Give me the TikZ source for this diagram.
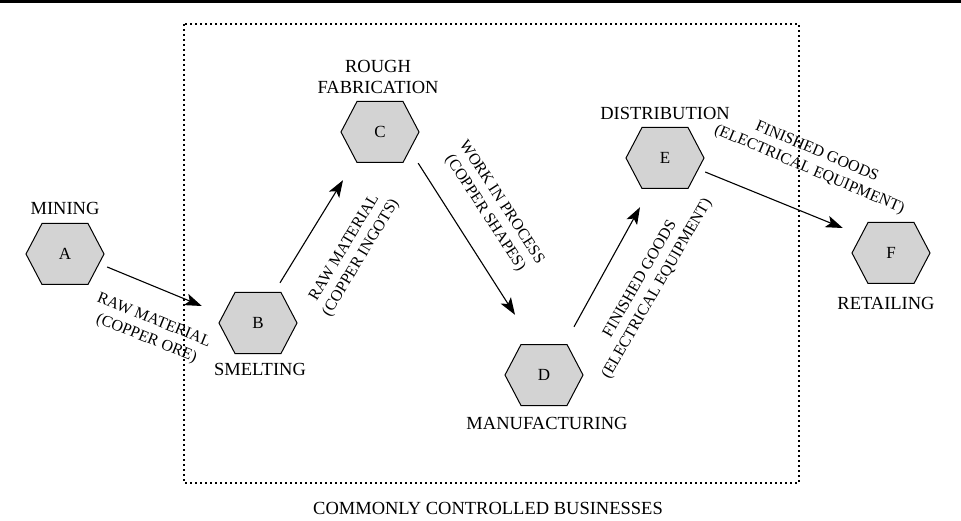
\documentclass[tikz,border=0pt]{standalone}
\usepackage{fontspec}
\setmainfont{Liberation Serif}
\usetikzlibrary{arrows.meta}
\definecolor{hexgray}{RGB}{211,211,211}
\begin{document}
\begin{tikzpicture}[x=1pt,y=-1pt,
  hexbox/.style={draw=none,minimum width=78pt,minimum height=61pt,inner sep=0pt,
    font=\fontsize{17}{20}\selectfont},
  hexshape/.style={draw=black,line width=1pt,fill=hexgray,line join=miter},
  stagename/.style={font=\fontsize{18.5}{21}\selectfont,align=center,inner sep=0pt},
  flowlabel/.style={font=\fontsize{16}{19.5}\selectfont,align=center,inner sep=0pt},
  flow/.style={line width=1.1pt,-{Stealth[length=17pt,width=12pt,inset=4pt]}},
  boundary/.style={line width=2.2pt,dash pattern=on 2pt off 3pt}
]
\useasboundingbox (0,0) rectangle (961,521);

% rule across the top
\fill (0,0) rectangle (961,3.5);

% boundary of the commonly controlled businesses
\draw[boundary] (184,24) rectangle (799,483);

% stages of the supply chain
\foreach \n/\cx/\cy in {A/65/254,B/258/323,C/380/132,D/544/375,E/665/158,F/891/253}{
  \draw[hexshape] (\cx-39,\cy) -- (\cx-23,\cy-30.5) -- (\cx+23,\cy-30.5)
    -- (\cx+39,\cy) -- (\cx+23,\cy+30.5) -- (\cx-23,\cy+30.5) -- cycle;
  \node[hexbox] (\n) at (\cx,\cy) {\n};
}

% stage names
\node[stagename] (mining)   at (65,208)  {MINING};
\node[stagename] (smelting) at (260,369) {SMELTING};
\node[stagename] (rough)    at (378,77)  {ROUGH\\FABRICATION};
\node[stagename] (manuf)    at (547,423) {MANUFACTURING};
\node[stagename] (distr)    at (665,113) {DISTRIBUTION};
\node[stagename] (retail)   at (886,303) {RETAILING};
\node[stagename] (ccb)      at (488,508) {COMMONLY CONTROLLED BUSINESSES};

% flows between stages
\draw[flow] ([shift={(3,13)}]A.east) -- ([shift={(-17,-17)}]B.west);
\draw[flow] ([shift={(22,-9.5)}]B.north) -- ([shift={(-37,17.5)}]C.south);
\draw[flow] ([shift={(-1,0.5)}]C.south east) -- ([shift={(-29,-29.5)}]D.north);
\draw[flow] ([shift={(30,-17.5)}]D.north) -- ([shift={(-25,18.5)}]E.south);
\draw[flow] ([shift={(1,14)}]E.east) -- ([shift={(-9,-25)}]F.west);

% flow labels
\node[flowlabel,rotate=-22] (lab1) at (150,330) {RAW MATERIAL\\(COPPER ORE)};
\node[flowlabel,rotate=59]  (lab2) at (353,253) {RAW MATERIAL\\(COPPER INGOTS)};
\node[flowlabel,rotate=-57] (lab3) at (493,208) {WORK IN PROCESS\\(COPPER SHAPES)};
\node[flowlabel,rotate=60]  (lab4) at (649,284) {FINISHED GOODS\\(ELECTRICAL EQUIPMENT)};
\node[flowlabel,rotate=-23] (lab5) at (813,161) {FINISHED GOODS\\(ELECTRICAL EQUIPMENT)};
\end{tikzpicture}
\end{document}
